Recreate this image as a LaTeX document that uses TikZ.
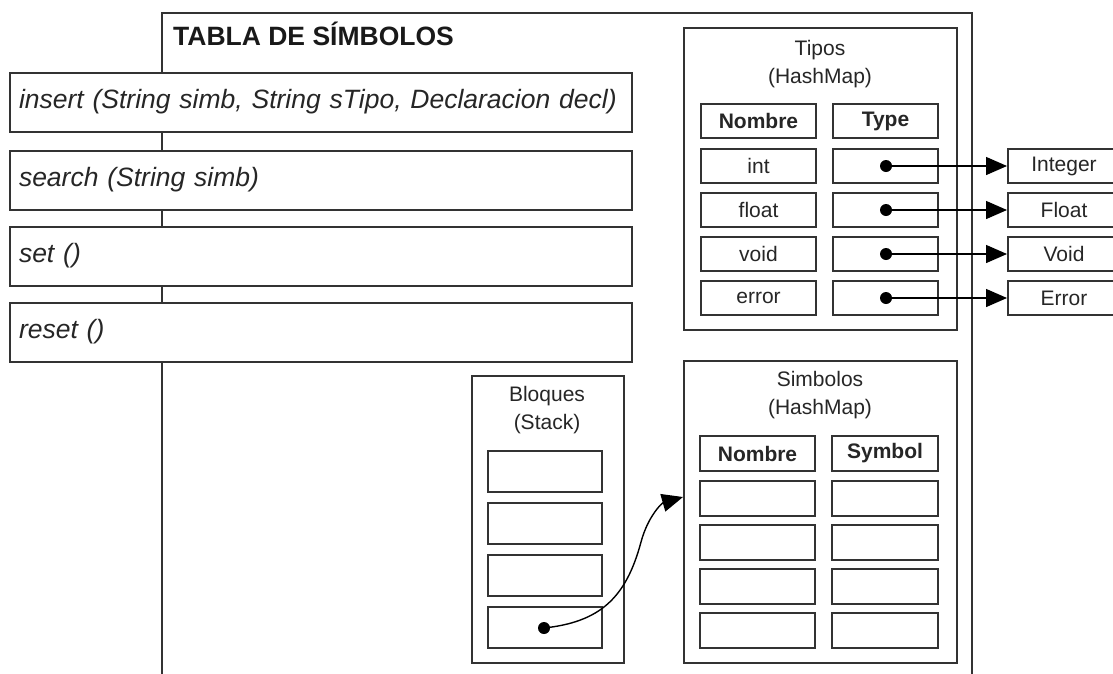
\documentclass[tikz,border=0pt]{standalone}
\usepackage{fontspec}
\setmainfont{Liberation Sans}
\usetikzlibrary{arrows.meta}
\begin{document}
\begin{tikzpicture}[x=1pt,y=-1pt,
  frame/.style={draw=black!80, line width=2pt},
  box/.style={draw=black!80, line width=2pt, fill=white, inner sep=0pt, text=black!85,
    font=\fontsize{21}{26}\selectfont},
  method/.style={box, minimum width=622pt, minimum height=59pt, text width=604pt, align=left,
    font=\fontsize{26.5}{30}\selectfont\itshape},
  container/.style={box, minimum width=273pt, minimum height=302pt},
  cell/.style={box, minimum height=34pt},
  scell/.style={box, minimum height=35pt},
  hdr/.style={font=\fontsize{21}{26}\selectfont\bfseries},
  ttl/.style={align=center, inner sep=0pt, text=black!85, font=\fontsize{21}{28}\selectfont},
  dot/.style={circle, fill=black, inner sep=0pt, minimum size=12pt},
  link/.style={draw=black, line width=1.4pt, -{Triangle[length=21pt,width=18pt]}}
]
\useasboundingbox (0,0) rectangle (1113,673);
\clip (0,0) rectangle (1113,673);

% main frame (open at the bottom)
\draw[frame] (162,680) -- (162,13) -- (972,13) -- (972,680);
\node[anchor=base west, inner sep=0pt, font=\fontsize{26.5}{30}\selectfont\bfseries, text=black!90] (title) at (173,45) {TABLA DE SÍMBOLOS};

% methods
\node[method] (m1) at (321,102) {insert (String simb, String sTipo, Declaracion decl)};
\node[method] (m2) at (321,180) {search (String simb)};
\node[method] (m3) at (321,256) {set ()};
\node[method] (m4) at (321,332) {reset ()};

% Tipos
\node[container] (tipos) at (820.5,179) {};
\node[ttl] (tiposT) at (820,64) {Tipos\\(HashMap)};
\node[cell, hdr, minimum width=115pt] (tn) at (758.5,121) {Nombre};
\node[cell, hdr, minimum width=105pt] (tt) at (885.5,121) {Type};
\foreach \n/\y/\lab/\tgt in {1/166/int/Integer, 2/210/float/Float, 3/254/void/Void, 4/298/error/Error}{
  \node[cell, minimum width=115pt] (tk\n) at (758.5,\y) {\lab};
  \node[cell, minimum width=105pt] (tv\n) at (885.5,\y) {};
  \node[cell, minimum width=112pt] (ty\n) at (1064,\y) {\tgt};
  \node[dot] (td\n) at (886,\y) {};
  \draw[link] (td\n.center) -- (ty\n.west);
}

% Bloques
\node[box, minimum width=152pt, minimum height=287pt] (bloq) at (548,519.5) {};
\node[ttl] (bloqT) at (547,410.5) {Bloques\\(Stack)};
\foreach \n/\y in {1/471.5, 2/523.5, 3/575.5, 4/627.5}{
  \node[box, minimum width=114pt, minimum height=41pt] (b\n) at (545,\y) {};
}
\node[dot] (bd) at (544,628) {};

% Simbolos
\node[container] (simb) at (820.5,512) {};
\node[ttl] (simbT) at (820,395.5) {Simbolos\\(HashMap)};
\node[scell, hdr, minimum width=115pt] (sn) at (757.5,453.5) {Nombre};
\node[scell, hdr, minimum width=106pt] (ss) at (885,453.5) {Symbol};
\foreach \n/\y in {1/498.5, 2/542.5, 3/586.5, 4/630.5}{
  \node[scell, minimum width=115pt] (sk\n) at (757.5,\y) {};
  \node[scell, minimum width=106pt] (sv\n) at (885,\y) {};
}
\coordinate (starget) at (simb.west |- 0,497);
\draw[link] (bd.center) .. controls (600,622) and (626,598) .. (641,542)
  .. controls (648,516) and (662,503) .. (starget);
\end{tikzpicture}
\end{document}
